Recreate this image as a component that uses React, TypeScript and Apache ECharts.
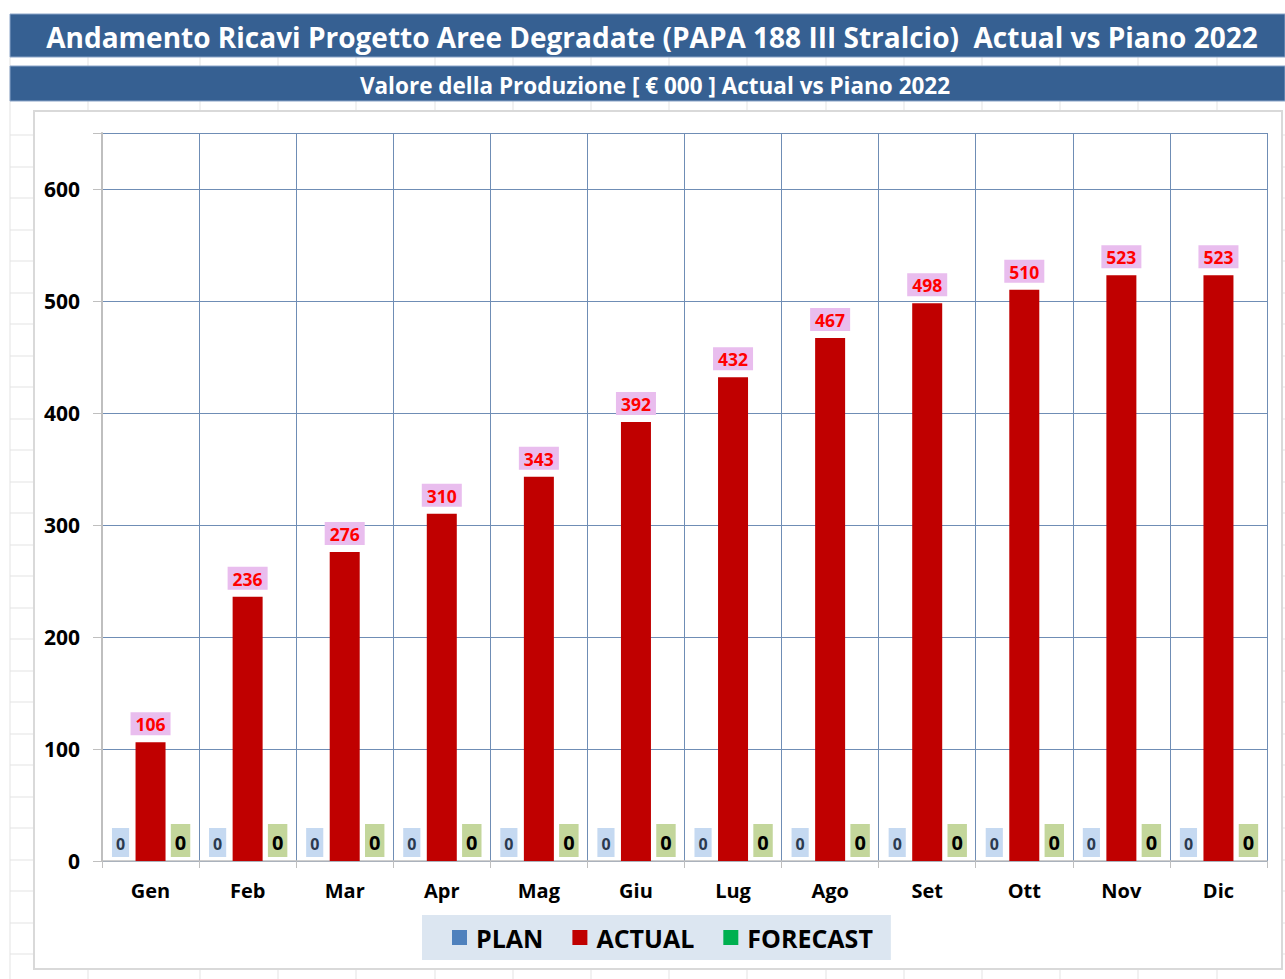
import React, { useEffect, useRef } from "react";
import * as echarts from "echarts";

const TITLE = "Andamento Ricavi Progetto Aree Degradate (PAPA 188 III Stralcio)  Actual vs Piano 2022";
const SUBTITLE = "Valore della Produzione [ € 000 ] Actual vs Piano 2022";
const months = ["Gen", "Feb", "Mar", "Apr", "Mag", "Giu", "Lug", "Ago", "Set", "Ott", "Nov", "Dic"];
const planValues = [0, 0, 0, 0, 0, 0, 0, 0, 0, 0, 0, 0];
const actualValues = [106, 236, 276, 310, 343, 392, 432, 467, 498, 510, 523, 523];
const forecastValues = [0, 0, 0, 0, 0, 0, 0, 0, 0, 0, 0, 0];
const seriesNames = ["PLAN", "ACTUAL", "FORECAST"];

const FONT = '"Open Sans", "Noto Sans", sans-serif';

function sheetLines() {
  const els: any[] = [];
  const cols = [10, 88];
  for (let x = 200; x < 1285; x += 78.2) cols.push(Math.round(x));
  cols.forEach((x) =>
    els.push({ type: "line", shape: { x1: x, y1: 57, x2: x, y2: 979 }, style: { stroke: "#e3e3e3", lineWidth: 1 }, silent: true })
  );
  for (let y = 828 + 31.5 * 4; y > 105; y -= 31.5) {
    els.push({ type: "line", shape: { x1: 10, y1: Math.round(y), x2: 1285, y2: Math.round(y) }, style: { stroke: "#e3e3e3", lineWidth: 1 }, silent: true });
  }
  return els;
}

export default function App() {
  const ref = useRef<HTMLDivElement>(null);
  useEffect(() => {
    document.body.style.margin = "0";
    const chart = echarts.init(ref.current!, null, { renderer: "svg" });
    const option: any = {
      animation: false,
      backgroundColor: "#ffffff",
      textStyle: { fontFamily: FONT },
      graphic: [
        ...sheetLines(),
        { type: "rect", shape: { x: 34, y: 111, width: 1248, height: 858 }, style: { fill: "#ffffff", stroke: "#d9d9d9", lineWidth: 2 }, silent: true },
        { type: "rect", shape: { x: 10, y: 14, width: 1275, height: 43 }, style: { fill: "#366092", stroke: "#8aa4c8", lineWidth: 1 }, silent: true },
        { type: "rect", shape: { x: 10, y: 66, width: 1275, height: 35 }, style: { fill: "#366092", stroke: "#8aa4c8", lineWidth: 1 }, silent: true },
        {
          type: "text", x: 652, y: 37,
          style: { text: TITLE, fill: "#ffffff", font: `bold 28px ${FONT}`, textAlign: "center", textVerticalAlign: "middle", verticalAlign: "middle" },
          silent: true,
        },
        {
          type: "text", x: 655, y: 85,
          style: { text: SUBTITLE, fill: "#ffffff", font: `bold 22.5px ${FONT}`, textAlign: "center", textVerticalAlign: "middle", verticalAlign: "middle" },
          silent: true,
        },
      ],
      legend: {
        data: seriesNames,
        left: 422,
        top: 915,
        backgroundColor: "#dce6f1",
        padding: [10, 18, 10, 30],
        itemGap: 29,
        itemWidth: 15,
        itemHeight: 15,
        icon: "rect",
        textStyle: { fontSize: 25, fontWeight: "bold", color: "#000000", fontFamily: FONT, padding: [0, 0, 0, 4] },
      },
      grid: { left: 102, right: 18, top: 133, bottom: 118 },
      xAxis: {
        type: "category",
        data: months,
        axisLine: { show: true, lineStyle: { color: "#bfbfbf", width: 1.5 } },
        axisTick: { show: true, length: 7, lineStyle: { color: "#bfbfbf" } },
        splitLine: { show: true, lineStyle: { color: "#6f8db5", width: 1 } },
        axisLabel: { fontSize: 20, fontWeight: "bold", color: "#000000", margin: 19, fontFamily: FONT },
      },
      yAxis: {
        type: "value",
        min: 0,
        max: 650,
        interval: 100,
        axisLine: { show: true, lineStyle: { color: "#bfbfbf", width: 2 } },
        axisTick: { show: true, length: 9, lineStyle: { color: "#bfbfbf" } },
        splitLine: { show: true, lineStyle: { color: "#6f8db5", width: 1 } },
        axisLabel: {
          fontSize: 21, fontWeight: "bold", color: "#000000", margin: 22, fontFamily: FONT,
          formatter: (v: number) => (v % 100 === 0 ? String(v) : ""),
        },
      },
      series: [
        {
          name: seriesNames[0], type: "bar", data: planValues, barWidth: 30, barGap: "0%",
          itemStyle: { color: "#4f81bd" },
          label: {
            show: true, position: "top", distance: 4, fontSize: 16, fontWeight: "bold", color: "#2b3a4f",
            backgroundColor: "#c5d9f1", padding: [8, 4, 5, 4], fontFamily: FONT,
          },
        },
        {
          name: seriesNames[1], type: "bar", data: actualValues, barWidth: 30, barGap: "0%",
          itemStyle: { color: "#c00000" },
          label: {
            show: true, position: "top", distance: 7, fontSize: 17.5, fontWeight: "bold", color: "#ff0000",
            backgroundColor: "#e9bdee", padding: [3, 5, 2, 5], fontFamily: FONT,
          },
        },
        {
          name: seriesNames[2], type: "bar", data: forecastValues, barWidth: 30, barGap: "0%",
          itemStyle: { color: "#00b050" },
          label: {
            show: true, position: "top", distance: 4, fontSize: 20, fontWeight: "bold", color: "#000000",
            backgroundColor: "#c3d69b", padding: [8, 4, 5, 4], fontFamily: FONT,
          },
        },
      ],
    };
    chart.setOption(option);
    return () => chart.dispose();
  }, []);
  return <div ref={ref} style={{ width: 1285, height: 979 }} />;
}
